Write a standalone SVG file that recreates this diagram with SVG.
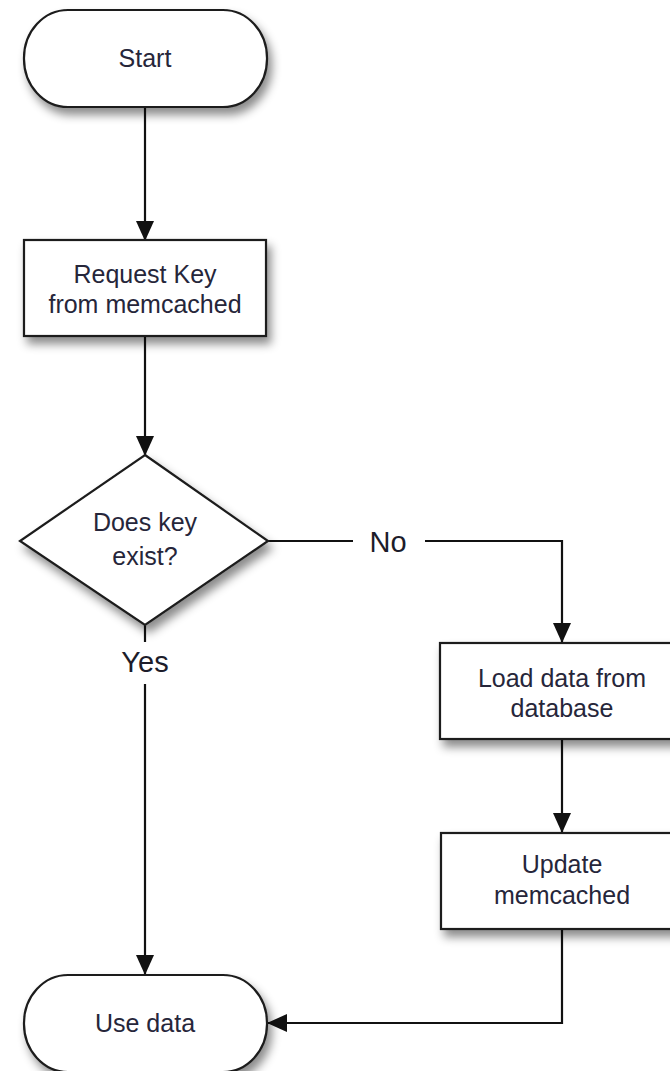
<svg xmlns="http://www.w3.org/2000/svg" width="670" height="1071" viewBox="0 0 670 1071">
<defs>
<style>
.shape{fill:#ffffff;stroke:#1c1c1c;stroke-width:2.2;filter:url(#sh)}
.t{font-family:"Liberation Sans",Arial,sans-serif;font-size:25px;fill:#26263a;text-anchor:middle}
.lbl{font-family:"Liberation Sans",Arial,sans-serif;font-size:29px;fill:#1c1c2a;text-anchor:middle}
.c{fill:none;stroke:#111;stroke-width:2.2}
</style>
<filter id="sh" x="-20%" y="-20%" width="150%" height="160%">
<feDropShadow dx="4" dy="7" stdDeviation="5" flood-color="#000" flood-opacity="0.45"/>
</filter>
<marker id="ah" markerUnits="userSpaceOnUse" markerWidth="20" markerHeight="20" refX="19" refY="10" orient="auto">
<path d="M0,1 L20,10 L0,19 z" fill="#111"/>
</marker>
</defs>
<rect width="670" height="1071" fill="#ffffff"/>
<g id="connectors">
<path class="c" d="M145,107 L145,240" marker-end="url(#ah)"/>
<path class="c" d="M145,336 L145,455" marker-end="url(#ah)"/>
<path class="c" d="M268,541 L353,541"/>
<path class="c" d="M425,541 L562,541 L562,642" marker-end="url(#ah)"/>
<path class="c" d="M145,625 L145,642"/>
<path class="c" d="M145,684 L145,974" marker-end="url(#ah)"/>
<path class="c" d="M562,739 L562,832" marker-end="url(#ah)"/>
<path class="c" d="M562,929 L562,1023 L268,1023" marker-end="url(#ah)"/>
<text class="lbl" x="388" y="552">No</text>
<text class="lbl" x="145" y="672">Yes</text>
</g>
<g id="start">
<rect class="shape" x="24" y="10" width="243" height="97" rx="44" ry="48"/>
<text class="t" x="145" y="67">Start</text>
</g>
<g id="request">
<rect class="shape" x="24" y="240" width="242" height="96"/>
<text class="t" x="145" y="283">Request Key</text>
<text class="t" x="145" y="313">from memcached</text>
</g>
<g id="decision">
<polygon class="shape" points="145,455 268,541 145,625 20,541"/>
<text class="t" x="145" y="531">Does key</text>
<text class="t" x="145" y="565">exist?</text>
</g>
<g id="load">
<rect class="shape" x="440" y="643" width="244" height="96"/>
<text class="t" x="562" y="687">Load data from</text>
<text class="t" x="562" y="717">database</text>
</g>
<g id="update">
<rect class="shape" x="441" y="833" width="244" height="96"/>
<text class="t" x="562" y="873">Update</text>
<text class="t" x="562" y="904">memcached</text>
</g>
<g id="usedata">
<rect class="shape" x="24" y="975" width="243" height="97" rx="44" ry="48"/>
<text class="t" x="145" y="1032">Use data</text>
</g>
</svg>
